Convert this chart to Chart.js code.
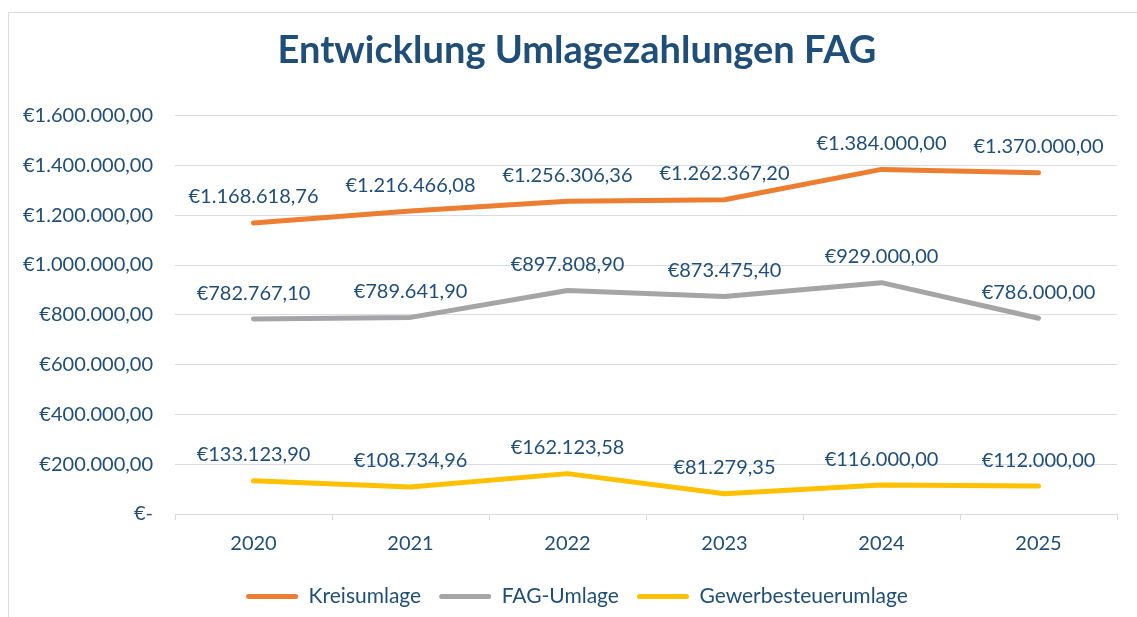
<!DOCTYPE html>
<html><head><meta charset="utf-8">
<script src="https://cdn.jsdelivr.net/npm/chart.js@4.4.1/dist/chart.umd.min.js"></script>
<style>
html,body{margin:0;padding:0;background:#fff;overflow:hidden}
#wrap{position:relative;width:1137px;height:617px;overflow:hidden}
#frame{position:absolute;left:8px;top:12px;width:2000px;height:2000px;border-left:1px solid #d9dee6;border-top:1px solid #d9dee6;pointer-events:none}
canvas{position:absolute;left:0;top:0}
</style></head><body>
<div id="wrap"><canvas id="c" width="1137" height="617"></canvas><div id="frame"></div></div>
<script>
const categories = ['2020', '2021', '2022', '2023', '2024', '2025'];
const kreisumlage = [1168618.76, 1216466.08, 1256306.36, 1262367.20, 1384000.00, 1370000.00];
const fagUmlage = [782767.10, 789641.90, 897808.90, 873475.40, 929000.00, 786000.00];
const gewerbesteuerumlage = [133123.90, 108734.96, 162123.58, 81279.35, 116000.00, 112000.00];
const seriesNames = ['Kreisumlage', 'FAG-Umlage', 'Gewerbesteuerumlage'];
const yTicks = [0, 200000, 400000, 600000, 800000, 1000000, 1200000, 1400000, 1600000];
const titleText = 'Entwicklung Umlagezahlungen FAG';

const TEXT = '#1F4E79';
const FONT = 'Lato';

function eur(v) {
  if (v === 0) return '€-';
  const p = v.toFixed(2).split('.');
  return '€' + p[0].replace(/\B(?=(\d{3})+(?!\d))/g, '.') + ',' + p[1];
}

const valueLabels = {
  id: 'valueLabels',
  afterLayout(chart) {
    // let the y tick labels use the space left of the axis box (no clipping)
    chart.scales.y.left = 0;
  },
  afterDatasetsDraw(chart) {
    const ctx = chart.ctx;
    ctx.save();
    ctx.font = '20px ' + FONT;
    ctx.fillStyle = TEXT;
    ctx.textAlign = 'center';
    ctx.textBaseline = 'middle';
    chart.data.datasets.forEach((ds, i) => {
      const meta = chart.getDatasetMeta(i);
      meta.data.forEach((pt, j) => {
        ctx.fillText(eur(ds.data[j]), pt.x, pt.y - 26);
      });
    });
    ctx.restore();
  }
};

function ds(label, data, color) {
  return {
    label, data,
    borderColor: color, backgroundColor: color,
    borderWidth: 5, pointRadius: 0, pointHoverRadius: 0, tension: 0,
    borderCapStyle: 'round', borderJoinStyle: 'round', fill: false
  };
}

new Chart(document.getElementById('c'), {
  type: 'line',
  data: {
    labels: categories,
    datasets: [
      ds(seriesNames[0], kreisumlage, '#ED7D31'),
      ds(seriesNames[1], fagUmlage, '#A5A5A5'),
      ds(seriesNames[2], gewerbesteuerumlage, '#FFC000')
    ]
  },
  options: {
    responsive: false,
    animation: false,
    events: [],
    layout: { padding: { left: 37, right: 20, top: 0, bottom: 0 } },
    plugins: {
      title: {
        display: true, text: titleText, color: TEXT,
        font: { family: FONT, size: 38, weight: 'bold' },
        padding: { top: 28, bottom: 42 }
      },
      legend: {
        position: 'bottom',
        labels: {
          color: TEXT, font: { family: FONT, size: 21 },
          boxWidth: 52, boxHeight: 5, padding: 18,
          useBorderRadius: true, borderRadius: 2.5,
          generateLabels: (chart) => Chart.defaults.plugins.legend.labels.generateLabels(chart).map(l => ({ ...l, lineWidth: 0 }))
        }
      },
      tooltip: { enabled: false }
    },
    scales: {
      x: {
        offset: true,
        grid: { offset: true, drawOnChartArea: false, drawTicks: true, tickLength: 6, color: '#d9d9d9' },
        border: { display: true, color: '#d9d9d9', width: 1 },
        ticks: { color: TEXT, font: { family: FONT, size: 20 }, padding: 12 }
      },
      y: {
        min: 0, max: 1600000,
        afterBuildTicks: s => { s.ticks = yTicks.map(v => ({ value: v })); },
        afterFit: s => { s.width = 138; },
        grid: { drawTicks: false, color: '#d9dde3', lineWidth: 1 },
        border: { display: false },
        ticks: { color: TEXT, font: { family: FONT, size: 20 }, padding: 22, callback: v => eur(v) }
      }
    }
  },
  plugins: [valueLabels]
});
</script>
</body></html>
